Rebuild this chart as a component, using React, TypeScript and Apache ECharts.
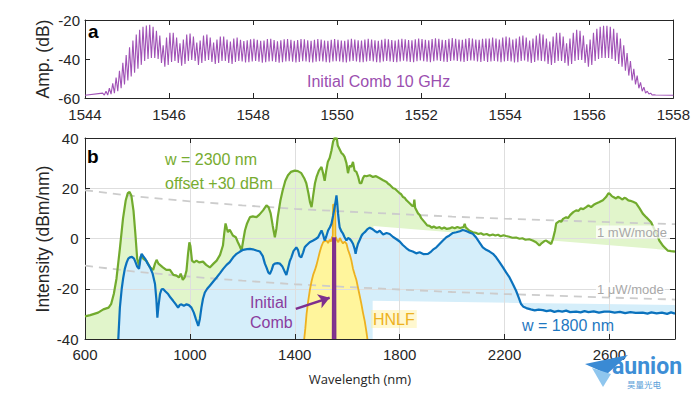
import React, { useEffect, useRef } from "react";
import * as echarts from "echarts";

// ---------- panel a : initial 10 GHz comb ----------
const COMB_START = 1544.42; // nm, first comb line
const COMB_STEP = 0.08; // nm, 10 GHz line spacing
const COMB_FLOOR = -58.6;
const combPeaks = [
  -57.5, -56.5, -55, -52.5, -49.5, -46, -42, -38, -34, -30.5,
  -27.5, -25, -23.5, -22.8, -22.5, -23.5, -25.5, -28, -33, -29,
  -26.5, -26.5, -29, -32, -30, -27.5, -27, -28.5, -31.5, -30.5,
  -28, -27.5, -29, -31.5, -30, -28.5, -28.5, -30, -31, -29.5,
  -29,
  -30.2, -30.8, -30.4, -29.9, -29.6, -30.1, -30.7, -30.5, -29.8, -29.7,
  -30.3, -30.9, -30.4, -29.9, -29.8, -30.2, -30.6, -30.3, -29.8, -29.9,
  -30.4, -30.7, -30.2, -29.8, -30.0, -30.5, -30.6, -30.1, -29.8, -30.1,
  -30.5, -30.6, -30.0, -29.7, -30.0, -30.4, -30.5, -30.0, -29.7, -30.0,
  -30.4, -30.6, -30.1, -29.7, -29.9, -30.3, -30.5, -30.0, -29.6, -29.9,
  -30.3, -30.4, -29.9, -29.5, -29.8, -30.2, -30.4, -29.8, -29.4, -29.7,
  -30.1, -30.3, -29.7, -29.3, -29.6, -30.0, -30.2, -29.6, -29.2, -29.5,
  -30.0, -30.2, -29.6,
  -29.5, -29.5, -29, -29.5, -30, -29, -28.5, -29, -30, -29.5,
  -28.5, -28, -29, -30.5, -29.5, -28, -27, -27.5, -29.5, -31,
  -28.5, -26.5, -26.5, -28.5, -32, -29.5, -26.5, -25, -25.5, -28,
  -32.5, -30, -26.5, -24.5, -23.5, -23, -23, -23.5, -24.5, -26.5,
  -29.5, -33, -37, -41, -45, -48.5, -52, -54.5, -56.5, -57.5,
  -58.3,
];
const combTroughs = [
  -58.5, -58.5, -58, -57.5, -56.5, -55, -53, -51, -49, -47,
  -45, -43, -41, -40, -39.5, -39.5, -40, -42, -44, -43,
  -41.5, -41, -42, -43.5, -42.5, -41, -40.5, -41, -43, -42,
  -41, -40.5, -41.5, -42.5, -42, -41, -41, -42, -42.5, -41.5,
  -41,
  -41.3, -41.8, -41.6, -41.2, -41.0, -41.4, -41.9, -41.7, -41.2, -41.1,
  -41.5, -41.9, -41.6, -41.2, -41.1, -41.4, -41.8, -41.5, -41.1, -41.2,
  -41.6, -41.8, -41.4, -41.1, -41.3, -41.7, -41.8, -41.3, -41.1, -41.3,
  -41.7, -41.8, -41.2, -41.0, -41.3, -41.6, -41.7, -41.2, -41.0, -41.3,
  -41.6, -41.8, -41.3, -41.0, -41.2, -41.5, -41.7, -41.2, -40.9, -41.2,
  -41.5, -41.6, -41.1, -40.8, -41.1, -41.4, -41.6, -41.1, -40.8, -41.0,
  -41.4, -41.5, -41.0, -40.7, -41.0, -41.3, -41.5, -41.0, -40.7, -40.9,
  -41.3, -41.5, -41.0,
  -41.5, -41.3, -41, -41.3, -41.7, -41.2, -41, -41.3, -41.8, -41.6,
  -41, -40.8, -41.4, -42, -41.5, -40.8, -41, -41.2, -42.5, -43,
  -42, -41, -41, -42, -43.5, -42.5, -41, -40.5, -40.5, -42,
  -44, -43, -41, -40, -39.5, -39.5, -39.5, -40, -41, -42.5,
  -44, -46, -48.5, -51, -53, -55, -56.5, -57.5, -58, -58.5,
  -58.5,
];

// ---------- panel b : supercontinuum spectra ----------
const greenW2300 = [
  [600, -31], [620, -30.5], [650, -29.5], [670, -28.2], [690, -27.5], [700, -26], [710, -22], [720, -16],
  [733, -4], [745, 8], [755, 15], [763, 18], [770, 18.5], [777, 17], [785, 11], [792, 2], [799, -8],
  [806, -10.8], [811, -7.5], [816, -6.5], [822, -8], [835, -9], [848, -11.5], [860, -12.5], [867, -10],
  [873, -8.5], [880, -10], [897, -11.5], [910, -12.5], [924, -12.5], [937, -14.5], [949, -14.8],
  [958, -15.5], [965, -14], [973, -16.5], [980, -15.5], [987, -12.8], [993, -6], [998, -1.5],
  [1002, -3], [1008, -8.8], [1016, -9.5], [1025, -8.8], [1035, -9.5], [1050, -9.2], [1062, -10.5],
  [1076, -11.5], [1090, -10], [1102, -8.8], [1115, -6.5], [1126, -2.8], [1131, 2], [1136, 6],
  [1141, 4], [1145, 2.5], [1152, 3.5], [1164, 1.2], [1175, 0.5], [1183, -1.5], [1190, -3],
  [1197, -4.8], [1203, -1], [1210, 3.2], [1218, 6], [1229, 8.5], [1240, 8.8], [1254, 8.5],
  [1265, 9.5], [1279, 11.2], [1292, 13.2], [1300, 12.5], [1308, 10], [1316, 5], [1324, 0.5],
  [1330, 4], [1335, 8.5], [1345, 15], [1354, 19.2], [1364, 23], [1374, 25.2], [1385, 26.5],
  [1400, 27], [1412, 26.8], [1425, 26], [1436, 24], [1444, 22], [1452, 18], [1458, 14.5],
  [1464, 12.5], [1470, 17], [1477, 22], [1483, 24.5], [1492, 27], [1502, 28.5], [1508, 26],
  [1514, 23], [1520, 27], [1526, 30.5], [1533, 32], [1540, 35], [1546, 38.5], [1552, 40],
  [1556, 39.5], [1560, 40], [1564, 37], [1571, 35.5], [1578, 34], [1584, 33.5], [1590, 32.5],
  [1597, 30], [1603, 26], [1609, 29], [1616, 28.5], [1622, 30.5], [1628, 27], [1635, 26.5],
  [1642, 24.5], [1648, 22], [1654, 22], [1660, 24], [1666, 25], [1673, 24.8], [1686, 25.2],
  [1698, 24.5], [1710, 24.8], [1724, 24], [1737, 23.2], [1750, 22.5], [1756, 21.8], [1762, 21.4],
  [1775, 20], [1782, 19.8], [1788, 19.2], [1800, 18], [1806, 17.6], [1813, 16.5], [1820, 16.1],
  [1826, 15.2], [1838, 14], [1848, 13], [1853, 12.8], [1856, 15.5], [1859, 12.2], [1870, 10],
  [1876, 9.4], [1883, 8], [1895, 6.5], [1905, 5.2], [1914, 5], [1922, 4.3], [1930, 4.8],
  [1940, 4.2], [1952, 4.5], [1960, 3.9], [1970, 4.4], [1980, 3.8], [1990, 4], [2000, 4.5],
  [2010, 4.1], [2020, 4.6], [2030, 4.2], [2044, 4.6], [2048, 5.8], [2052, 4.4], [2065, 3.2],
  [2079, 2.5], [2090, 2.3], [2100, 1.8], [2110, 2.1], [2120, 1.5], [2132, 1.8], [2143, 1.2],
  [2155, 1.6], [2165, 1.2], [2175, 1.5], [2185, 0.9], [2196, 1.3], [2206, 1.0], [2218, 0.7],
  [2230, 0.3], [2244, 0.4], [2257, -0.1], [2268, 0.1], [2280, -0.5], [2294, -0.3], [2307, -0.8],
  [2320, -1.5], [2333, -2.8], [2342, -1.8], [2352, -1], [2359, -0.8], [2368, -1.5], [2378, -2.2],
  [2385, 0], [2392, 3], [2397, 6], [2410, 7], [2416, 6.6], [2423, 7.8], [2435, 8.5], [2442, 8.1],
  [2450, 9.3], [2462, 10.5], [2473, 11.2], [2482, 11.0], [2490, 12], [2500, 11.7], [2511, 12.5],
  [2520, 13.2], [2530, 12.5], [2540, 13.4], [2549, 13.9], [2562, 14.5], [2575, 15.2], [2587, 16.5],
  [2596, 18], [2600, 17.9], [2608, 17], [2615, 16.5], [2625, 15.9], [2632, 16.6], [2640, 16.2],
  [2650, 15.5], [2657, 16.2], [2664, 15.9], [2672, 15.2], [2680, 15], [2690, 14.6], [2702, 14],
  [2715, 12], [2727, 9.9], [2740, 8.5], [2759, 6.5], [2770, 4], [2782, 1.5], [2790, -0.8],
  [2805, -3], [2822, -4.8], [2835, -5], [2850, -5.2],
];

const blueW1800 = [
  [727, -40], [733, -27.5], [740, -20], [746, -15.5], [752, -12], [759, -9.5], [765, -8], [771, -7.5],
  [779, -7.3], [787, -8], [793, -9.5], [799, -11.2], [806, -12.1], [811, -8.5], [816, -6.1],
  [822, -7], [829, -8], [838, -9.8], [848, -11.5], [858, -14], [867, -18.1], [872, -24],
  [876, -31.5], [880, -27], [886, -22.1], [892, -20.2], [898, -20.1], [906, -21], [917, -22.1],
  [926, -23.5], [936, -24.8], [945, -26], [955, -27.5], [961, -26.5], [968, -26.2], [977, -26.8],
  [987, -26.2], [996, -26.5], [1006, -27.5], [1015, -29.5], [1023, -32.1], [1032, -34.8],
  [1038, -32], [1044, -27.5], [1050, -24], [1057, -21.5], [1066, -20], [1076, -18.8], [1090, -17],
  [1102, -15.5], [1115, -13.8], [1127, -12.1], [1140, -10.5], [1152, -9.4], [1165, -7.5],
  [1178, -6.1], [1190, -5.3], [1203, -4.5], [1218, -4.2], [1229, -4.1], [1240, -4.3], [1254, -4.8],
  [1267, -5.2], [1278, -7], [1286, -10], [1292, -11.5], [1299, -13.5], [1305, -14.1], [1312, -12.5],
  [1318, -10.5], [1324, -10], [1334, -9.8], [1343, -10], [1352, -11], [1360, -12.8], [1368, -14.5],
  [1374, -12], [1381, -9], [1387, -7.5], [1395, -5], [1406, -3.5], [1412, -4.5], [1418, -7],
  [1425, -7.5], [1432, -5.5], [1438, -3.5], [1444, -2.8], [1457, -1.5], [1470, -0.8], [1480, -0.2],
  [1489, 0.5], [1496, 2], [1502, 3.2], [1508, 1.5], [1514, -0.8], [1520, 0.8], [1527, 3.2],
  [1534, 4.5], [1540, 5.9], [1546, 9], [1552, 12.5], [1556, 15], [1559, 17.2], [1562, 14],
  [1565, 10], [1568, 7], [1571, 4.5], [1578, 2.8], [1584, 1.9], [1590, 0.5], [1597, -0.8],
  [1603, 0.2], [1610, -0.2], [1616, -1], [1622, -2.1], [1628, -4], [1632, -6.1], [1636, -4],
  [1641, -2.1], [1648, -0.5], [1655, 1.2], [1660, 1.9], [1667, 2.5], [1676, 3.6], [1686, 4.3],
  [1695, 3.8], [1705, 3], [1715, 2.4], [1724, 3.1], [1737, 1.6], [1750, 2.2], [1762, 1.8],
  [1775, 0.6], [1788, -0.3], [1800, -1.2], [1812, -2.6], [1825, -3.8], [1838, -4.8], [1850, -5.2],
  [1863, -5.9], [1876, -5.5], [1890, -6.2], [1908, -6.1], [1920, -5.2], [1930, -4.2], [1940, -3.5],
  [1952, -2.2], [1965, -0.8], [1978, 0.5], [1990, 1.2], [2003, 2.2], [2016, 2.5], [2030, 2.9],
  [2040, 3.4], [2048, 3.2], [2058, 2.8], [2068, 2.3], [2079, 1.9], [2090, 0.6], [2104, -1.5],
  [2117, -3.5], [2130, -4.5], [2143, -5.2], [2156, -6.1], [2168, -7.5], [2180, -9.3], [2194, -11.5],
  [2206, -13.5], [2219, -15.5], [2232, -18.2], [2244, -20.8], [2254, -23.5], [2263, -26.1],
  [2272, -27.2], [2283, -27.7], [2300, -28.2], [2315, -28.6], [2330, -28.3], [2346, -28.5],
  [2360, -28.9], [2375, -28.6], [2390, -29.2], [2405, -28.8], [2420, -29.1], [2435, -28.7],
  [2450, -29.3], [2473, -29.1], [2490, -29.4], [2505, -28.9], [2520, -29.3], [2540, -29.0],
  [2560, -29.5], [2580, -29.1], [2600, -29.1], [2620, -29.5], [2640, -29.2], [2660, -29.7],
  [2680, -29.3], [2700, -29.6], [2727, -29.5], [2745, -29.9], [2760, -29.4], [2780, -29.8],
  [2800, -29.5], [2820, -30], [2835, -29.4], [2850, -29.9],
];

const hnlfSpectrum = [
  [1436, -40], [1440, -36], [1445, -30], [1451, -25], [1457, -20.8], [1464, -17], [1470, -14.5],
  [1477, -12.5], [1483, -10.5], [1489, -8], [1495, -5.5], [1502, -3], [1508, -1.5], [1514, -1],
  [1521, -0.8], [1527, -1.8], [1533, -0.5], [1538, -1.2], [1542, 0.5], [1545, 1], [1546, 13.5],
  [1554, 13.5], [1555, 1], [1560, -0.5], [1566, -1.5], [1572, 0.2], [1578, -1], [1584, -2],
  [1590, -1.2], [1597, -2], [1603, -4.5], [1610, -6.5], [1616, -8.8], [1622, -12], [1629, -14.5],
  [1635, -16.5], [1641, -19.5], [1648, -23], [1654, -26], [1660, -29.5], [1667, -33], [1673, -37],
  [1677, -40],
];

const initialCombB = [[1545, -40], [1546, 0.5], [1548, -1.5], [1550, -0.5], [1552, -1.5], [1554, 0.5], [1555, -40]];

// reference levels (power per 10 GHz mode converted to dBm/nm)
const mWPerMode = [
  [600, 19.2], [800, 16.7], [1000, 14.8], [1200, 13.2], [1400, 11.8], [1600, 10.7],
  [1800, 9.7], [2000, 8.7], [2200, 7.9], [2400, 7.2], [2600, 6.5], [2850, 5.7],
];
const uWPerMode = [
  [600, -10.8], [800, -13.3], [1000, -15.2], [1200, -16.8], [1400, -18.2], [1600, -19.3],
  [1800, -20.3], [2000, -21.3], [2200, -22.1], [2400, -22.8], [2600, -23.5], [2850, -24.3],
];

// lower edges of the shaded regions
const greenShadeBase = [[2850, -4.8], [1700, 5], [1690, -40], [600, -40]];
const blueShadeBase = [[2850, -26.5], [1697, -24.8], [1697, -40], [727, -40]];

const arrowTail = [1404, -28];
const arrowHead = [1533, -23.6];

const topXTicks = { min: 1544, max: 1558, step: 2, showMax: true };
const topYTicks = { min: -60, max: -20, step: 20 };
const botXTicks = { min: 600, max: 2850, step: 400, showMax: false };
const botYTicks = { min: -40, max: 40, step: 20 };

const FONT = "'Liberation Sans', Arial, sans-serif";
const AX = "#262626";

function buildComb() {
  const out: number[][] = [[topXTicks.min, COMB_FLOOR]];
  combPeaks.forEach((p, i) => {
    const l = COMB_START + i * COMB_STEP;
    out.push([l, p]);
    out.push([l + COMB_STEP / 2, combTroughs[i]]);
  });
  out.push([topXTicks.max, COMB_FLOOR]);
  return out;
}

function polygon(pts: number[][], fill: string) {
  return {
    type: "custom",
    coordinateSystem: "cartesian2d",
    xAxisIndex: 1,
    yAxisIndex: 1,
    z: -1,
    silent: true,
    clip: true,
    data: [pts[0]],
    renderItem: (_p: any, api: any) => ({
      type: "polygon",
      shape: { points: pts.map((q) => api.coord(q)) },
      style: { fill },
    }),
  };
}

function line(data: number[][], color: string, width: number, extra: any = {}) {
  return {
    type: "line",
    xAxisIndex: 1,
    yAxisIndex: 1,
    data,
    showSymbol: false,
    symbol: "none",
    silent: true,
    lineStyle: { color, width },
    ...extra,
  };
}

const plain = (v: number) => String(v);

function xAxisBase(grid: number, t: any, pos: string, labels: boolean, split: boolean, margin: number) {
  return {
    type: "value",
    gridIndex: grid,
    position: pos,
    min: t.min,
    max: t.max,
    interval: t.step,
    axisLine: { show: true, onZero: false, lineStyle: { color: AX, width: 1 } },
    axisTick: { show: true, inside: true, length: 5, lineStyle: { color: AX } },
    axisLabel: {
      show: labels, color: AX, fontSize: 15, fontFamily: FONT, margin,
      showMaxLabel: t.showMax, formatter: plain,
    },
    splitLine: { show: split, lineStyle: { color: "#dedede", width: 1 } },
  };
}

function yAxisBase(grid: number, t: any, pos: string, labels: boolean, split: boolean, margin: number) {
  return {
    type: "value",
    gridIndex: grid,
    position: pos,
    min: t.min,
    max: t.max,
    interval: t.step,
    axisLine: { show: true, onZero: false, lineStyle: { color: AX, width: 1 } },
    axisTick: { show: true, inside: true, length: 5, lineStyle: { color: AX } },
    axisLabel: { show: labels, color: AX, fontSize: 15, fontFamily: FONT, margin, formatter: plain },
    splitLine: { show: split, lineStyle: { color: "#dedede", width: 1 } },
  };
}

function txt(text: string, x: number, y: number, fill: string, size: number, opts: any = {}) {
  const { align = "left", weight = "normal", family = FONT, rotation = 0, bg, pad } = opts;
  return {
    type: "text",
    x,
    y,
    rotation,
    z: 100,
    silent: true,
    style: {
      text,
      fill,
      fontSize: size,
      fontFamily: family,
      fontWeight: weight,
      align,
      verticalAlign: "middle",
      backgroundColor: bg,
      padding: pad,
    },
  };
}

export default function App() {
  const ref = useRef<HTMLDivElement>(null);
  useEffect(() => {
    if (!ref.current) return;
    const chart = echarts.init(ref.current, undefined, { renderer: "svg" });
    const option: any = {
      animation: false,
      backgroundColor: "#ffffff",
      textStyle: { fontFamily: FONT },
      grid: [
        { left: 85, top: 20, width: 590, height: 78 },
        { left: 85, top: 138, width: 590, height: 201 },
      ],
      xAxis: [
        xAxisBase(0, topXTicks, "bottom", true, false, 9),
        xAxisBase(1, botXTicks, "bottom", true, true, 8),
        xAxisBase(0, topXTicks, "top", false, false, 8),
        xAxisBase(1, botXTicks, "top", false, false, 8),
      ],
      yAxis: [
        yAxisBase(0, topYTicks, "left", true, false, 5),
        yAxisBase(1, botYTicks, "left", true, true, 6.5),
        yAxisBase(0, topYTicks, "right", false, false, 5),
        yAxisBase(1, botYTicks, "right", false, false, 5),
      ],
      series: [
        {
          type: "line",
          xAxisIndex: 0,
          yAxisIndex: 0,
          data: buildComb(),
          showSymbol: false,
          symbol: "none",
          silent: true,
          lineStyle: { color: "#a052b6", width: 1.1 },
        },
        polygon([...greenW2300, ...greenShadeBase], "#e1f5cb"),
        polygon([...blueW1800, ...blueShadeBase], "#d5eefa"),
        polygon(hnlfSpectrum, "#fff59c"),
        line(mWPerMode, "#cccccc", 1.8, { lineStyle: { color: "#cccccc", width: 1.8, type: [8, 6] } }),
        line(uWPerMode, "#cccccc", 1.8, { lineStyle: { color: "#cccccc", width: 1.8, type: [8, 6] } }),
        line(greenW2300, "#72ab2e", 2.2),
        line(hnlfSpectrum, "#edb120", 1.8),
        line(blueW1800, "#0b72bd", 2.2),
        line(initialCombB, "#7e2f8e", 2, {
          areaStyle: { color: "#7e2f8e", opacity: 0.9, origin: "start" },
          markLine: {
            silent: true,
            symbol: ["none", "arrow"],
            symbolSize: 11,
            lineStyle: { color: "#7e2f8e", width: 2.5, type: "solid" },
            label: { show: false },
            data: [[{ coord: arrowTail }, { coord: arrowHead }]],
          },
        }),
      ],
      graphic: [
        txt("a", 88, 31, "#000", 19, { weight: "bold" }),
        txt("b", 87, 156, "#000", 19, { weight: "bold" }),
        txt("Amp. (dB)", 43, 59, AX, 17.5, { align: "center", rotation: Math.PI / 2 }),
        txt("Intensity (dBm/nm)", 43, 239, AX, 17.5, { align: "center", rotation: Math.PI / 2 }),
        txt("Wavelength (nm)", 360, 379, AX, 13, { align: "center", family: "'Open Sans', sans-serif" }),
        txt("Initial Comb 10 GHz", 307, 81, "#9b4fb0", 16),
        txt("w = 2300 nm", 165, 159, "#77ac30", 16),
        txt("offset +30 dBm", 165, 183, "#77ac30", 16),
        txt("Initial", 250, 302, "#8a3d9e", 16),
        txt("Comb", 250, 322, "#8a3d9e", 16),
        txt("HNLF", 371, 319, "#edb120", 16, { bg: "rgba(255,240,150,0.45)", pad: [1, 2] }),
        txt("w = 1800 nm", 522, 325, "#1f78c1", 16),
        txt("1 mW/mode", 596, 232, "#a8a8a8", 13, { bg: "rgba(255,255,255,0.75)", pad: [0, 1] }),
        txt("1 μW/mode", 596, 289, "#a8a8a8", 13, { bg: "rgba(255,255,255,0.85)", pad: [0, 1] }),
        {
          type: "polygon",
          z: 110,
          silent: true,
          shape: { points: [[585, 364], [628, 355], [607, 374]] },
          style: { fill: "#3a8ad4" },
        },
        {
          type: "polygon",
          z: 110,
          silent: true,
          shape: { points: [[592, 368], [611, 374], [603, 387]] },
          style: { fill: "#8fc6ee" },
        },
        txt("aunion", 612, 366, "#3d8ed6", 23, { weight: "bold", family: "Roboto, sans-serif" }),
        txt("昊量光电", 627, 384, "#5aa0d8", 8.5, { family: "'Noto Sans CJK SC', sans-serif" }),
      ],
    };
    chart.setOption(option);
    return () => chart.dispose();
  }, []);
  return (
    <div
      ref={ref}
      style={{ position: "fixed", left: 0, top: 0, width: 693, height: 393, background: "#fff" }}
    />
  );
}
